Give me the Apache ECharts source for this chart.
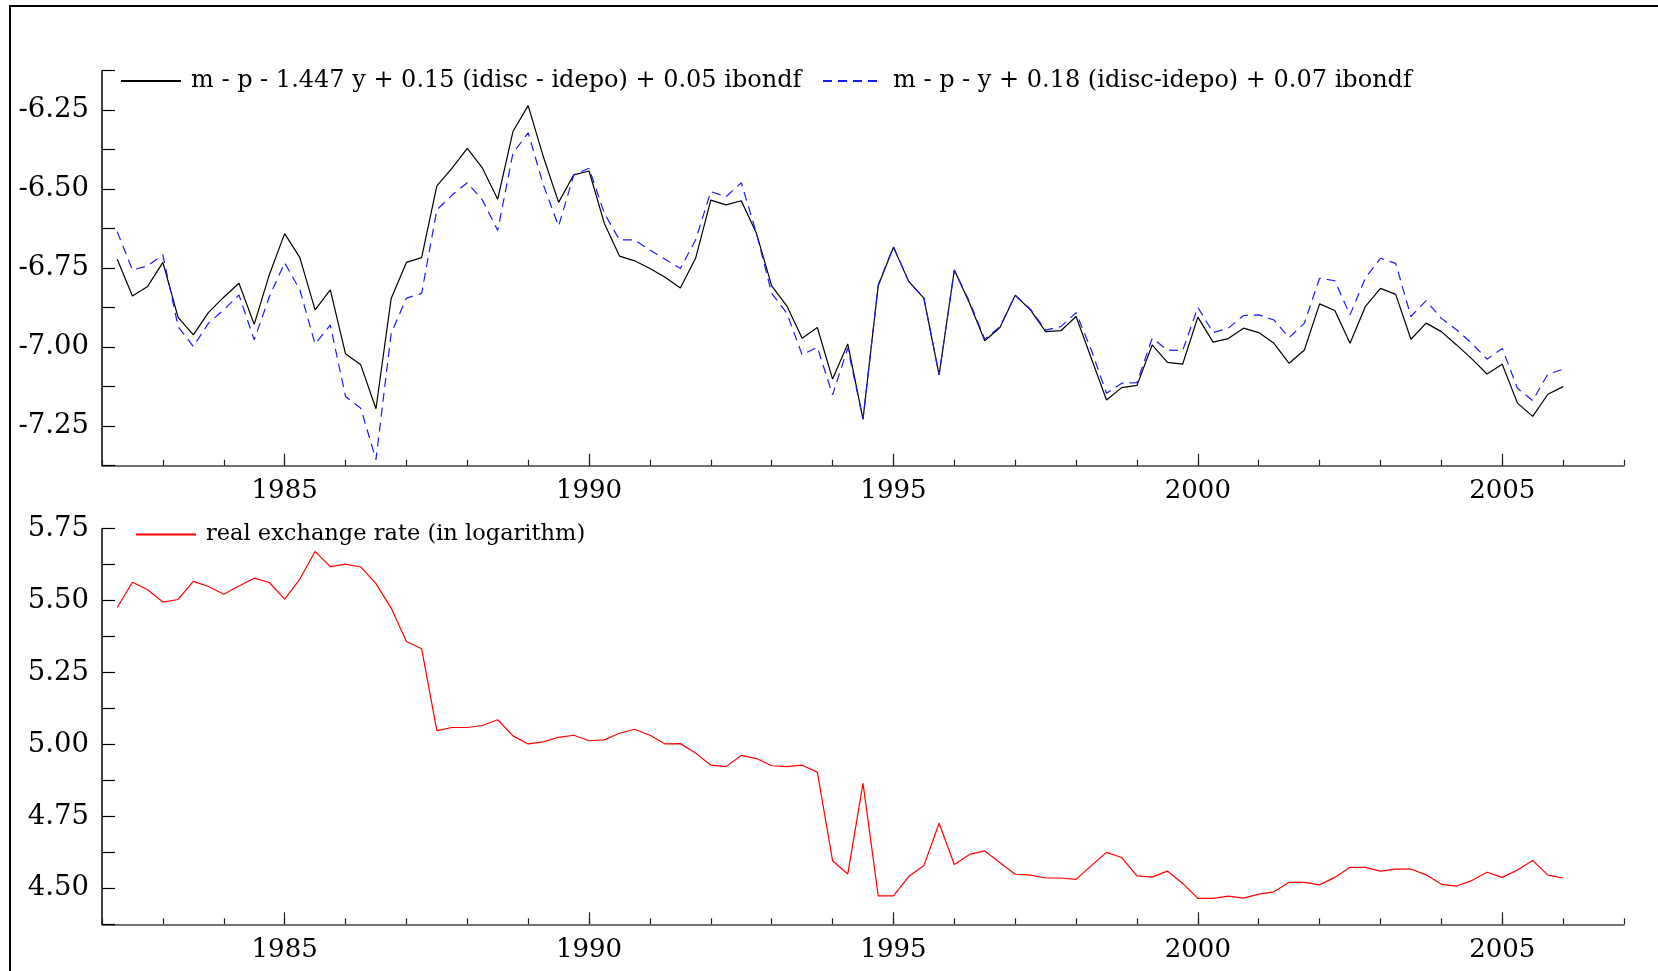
<!DOCTYPE html>
<html>
<head>
<meta charset="utf-8">
<script src="https://cdn.jsdelivr.net/npm/echarts@6/dist/echarts.min.js"></script>
<style>
html,body{margin:0;padding:0;background:#fff;}
#main{width:1658px;height:971px;}
</style>
</head>
<body>
<div id="main"></div>
<script>
// Quarterly observations, 1982Q2 .. 2006Q1
const startYear = 1982, startQuarter = 2, nObs = 96;
const seriesNames = [
  'm - p - 1.447 y + 0.15 (idisc - idepo) + 0.05 ibondf',
  'm - p - y + 0.18 (idisc-idepo) + 0.07 ibondf',
  'real exchange rate (in logarithm)'
];
const moneyDemand1 = [
  -6.722,-6.838,-6.808,-6.732,-6.906,-6.961,-6.890,-6.842,-6.798,-6.928,
  -6.770,-6.641,-6.717,-6.882,-6.819,-7.021,-7.056,-7.195,-6.846,-6.732,
  -6.717,-6.490,-6.434,-6.371,-6.434,-6.532,-6.318,-6.236,-6.398,-6.542,
  -6.455,-6.443,-6.608,-6.712,-6.727,-6.751,-6.779,-6.813,-6.719,-6.535,
  -6.550,-6.537,-6.640,-6.806,-6.870,-6.972,-6.938,-7.101,-6.990,-7.228,
  -6.806,-6.684,-6.792,-6.845,-7.088,-6.756,-6.861,-6.980,-6.938,-6.836,
  -6.882,-6.951,-6.948,-6.903,-7.035,-7.167,-7.128,-7.121,-6.993,-7.048,
  -7.054,-6.905,-6.984,-6.973,-6.940,-6.954,-6.988,-7.051,-7.009,-6.863,
  -6.884,-6.988,-6.872,-6.814,-6.833,-6.975,-6.924,-6.951,-6.993,-7.037,
  -7.085,-7.054,-7.177,-7.219,-7.149,-7.125
];
const moneyDemand2 = [
  -6.635,-6.756,-6.743,-6.708,-6.935,-6.998,-6.924,-6.882,-6.835,-6.977,
  -6.840,-6.733,-6.819,-6.990,-6.930,-7.156,-7.193,-7.356,-6.956,-6.845,
  -6.830,-6.566,-6.519,-6.480,-6.535,-6.631,-6.387,-6.322,-6.487,-6.617,
  -6.455,-6.434,-6.576,-6.661,-6.661,-6.693,-6.722,-6.751,-6.661,-6.508,
  -6.524,-6.480,-6.640,-6.830,-6.893,-7.024,-7.000,-7.151,-7.003,-7.228,
  -6.803,-6.682,-6.792,-6.845,-7.088,-6.756,-6.856,-6.975,-6.935,-6.836,
  -6.880,-6.946,-6.935,-6.891,-7.009,-7.146,-7.114,-7.112,-6.972,-7.009,
  -7.011,-6.874,-6.954,-6.940,-6.900,-6.898,-6.914,-6.970,-6.924,-6.782,
  -6.790,-6.898,-6.782,-6.719,-6.735,-6.903,-6.853,-6.909,-6.945,-6.988,
  -7.038,-7.004,-7.130,-7.169,-7.085,-7.070
];
const realExchangeRate = [
  5.476,5.564,5.538,5.495,5.504,5.567,5.549,5.522,5.551,5.578,
  5.563,5.505,5.575,5.671,5.618,5.627,5.617,5.559,5.474,5.358,
  5.333,5.048,5.059,5.059,5.066,5.086,5.030,5.002,5.009,5.025,
  5.032,5.013,5.016,5.039,5.053,5.032,5.002,5.003,4.970,4.928,
  4.923,4.962,4.951,4.926,4.923,4.928,4.904,4.596,4.550,4.865,
  4.474,4.474,4.541,4.579,4.726,4.583,4.618,4.630,4.589,4.549,
  4.546,4.536,4.536,4.531,4.579,4.625,4.607,4.543,4.539,4.560,
  4.517,4.465,4.465,4.473,4.466,4.480,4.488,4.521,4.521,4.512,
  4.538,4.573,4.573,4.560,4.567,4.567,4.547,4.514,4.508,4.527,
  4.556,4.538,4.564,4.597,4.546,4.536
];
const yearTicks = [1985, 1990, 1995, 2000, 2005];

// time of each observation as fractional year (quarter q at year + (q-1)/4)
const times = [];
for (let i = 0; i < nObs; i++) {
  const q = startQuarter - 1 + i;
  times.push(startYear + Math.floor(q / 4) + (q % 4) / 4);
}
const pair = arr => arr.map((v, i) => [times[i], v]);

const FONT = 'DejaVu Serif';
const gridTop = {left: 102, right: 34, top: 70.5, height: 395.2};
const gridBot = {left: 102, right: 34, top: 528.7, height: 395.6};

function mainX(gi) {
  return {
    gridIndex: gi, type: 'value', min: 1982, max: 2007,
    axisLine: {show: true, onZero: false, lineStyle: {color: '#444', width: 1.5}},
    axisTick: {show: true, inside: true, length: 12, customValues: yearTicks, lineStyle: {color: '#222', width: 1.2}},
    axisLabel: {show: true, customValues: yearTicks, formatter: v => String(v), fontFamily: FONT, fontSize: 26, color: '#000', margin: 13},
    splitLine: {show: false}
  };
}
function minorX(gi) {
  return {
    gridIndex: gi, type: 'value', min: 1982, max: 2007, interval: 1, position: 'bottom',
    axisLine: {show: false, onZero: false},
    axisTick: {show: true, inside: true, length: 6, lineStyle: {color: '#222', width: 1.2}},
    axisLabel: {show: false},
    splitLine: {show: false}
  };
}
function yAx(gi, min, max) {
  return {
    gridIndex: gi, type: 'value', min: min, max: max, interval: 0.125,
    axisLine: {show: true, onZero: false, lineStyle: {color: '#000', width: 1.5}},
    axisTick: {show: true, inside: true, length: 13, lineStyle: {color: '#000', width: 1.2}},
    axisLabel: {
      show: true, fontFamily: FONT, fontSize: 27.5, color: '#000', margin: 13,
      formatter: v => (Math.abs(v * 4 - Math.round(v * 4)) < 1e-6 ? v.toFixed(2) : '')
    },
    splitLine: {show: false}
  };
}

function legendAt(name, left, top, size) {
  return {
    data: [name], left: left, top: top,
    orient: 'horizontal', itemWidth: 60, itemHeight: 14, padding: 0, selectedMode: false,
    itemStyle: {opacity: 0},
    textStyle: {fontFamily: FONT, fontSize: size, color: '#000', padding: [0, 0, 0, 5]}
  };
}

const chart = echarts.init(document.getElementById('main'), null, {renderer: 'canvas'});
chart.setOption({
  animation: false,
  backgroundColor: '#fff',
  grid: [gridTop, gridBot],
  xAxis: [mainX(0), minorX(0), mainX(1), minorX(1)],
  yAxis: [yAx(0, -7.375, -6.125), yAx(1, 4.375, 5.75)],
  legend: [
    legendAt(seriesNames[0], 120, 69, 24),
    legendAt(seriesNames[1], 822, 69, 24),
    legendAt(seriesNames[2], 135, 523, 22.5)
  ],
  graphic: [{
    type: 'rect', silent: true, z: 100,
    shape: {x: 10, y: 6, width: 1700, height: 1000},
    style: {fill: 'none', stroke: '#000', lineWidth: 2}
  }],
  series: [
    {name: seriesNames[0], type: 'line', xAxisIndex: 0, yAxisIndex: 0, data: pair(moneyDemand1),
     symbol: 'none', lineStyle: {color: '#000', width: 1.2}, itemStyle: {color: '#000'}},
    {name: seriesNames[1], type: 'line', xAxisIndex: 0, yAxisIndex: 0, data: pair(moneyDemand2),
     symbol: 'none', lineStyle: {color: '#1a1aff', width: 1.2, type: [9, 6]}, itemStyle: {color: '#1a1aff'}},
    {name: seriesNames[2], type: 'line', xAxisIndex: 2, yAxisIndex: 1, data: pair(realExchangeRate),
     symbol: 'none', lineStyle: {color: '#ff0000', width: 1.2}, itemStyle: {color: '#ff0000'}}
  ]
});
</script>
</body>
</html>
